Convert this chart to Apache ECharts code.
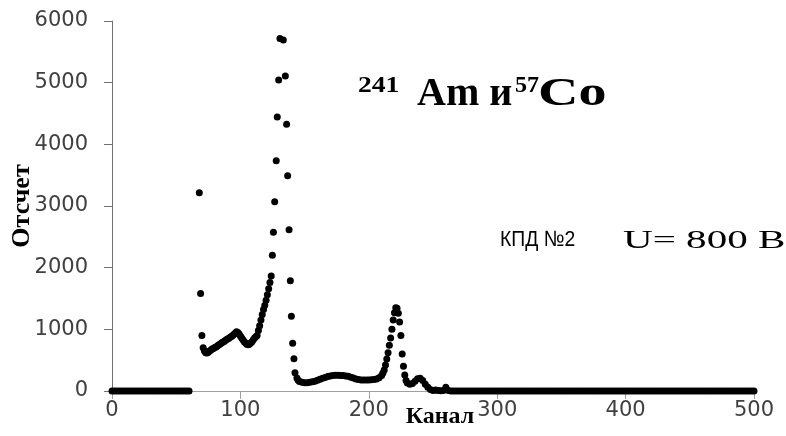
<!DOCTYPE html>
<html>
<head>
<meta charset="utf-8">
<script src="https://cdn.jsdelivr.net/npm/echarts@6/dist/echarts.min.js"></script>
<style>html,body{margin:0;padding:0;background:#fff}#c{width:786px;height:436px}</style>
</head>
<body>
<div id="c"></div>
<script>
// Tick values
const xTicks = [0, 100, 200, 300, 400, 500];
const yTicks = [0, 1000, 2000, 3000, 4000, 5000, 6000];

// Baseline region before the spectrum (channels 0..60, every 2nd channel)
const baseStart = 0, baseStep = 2;
const baseCounts = [0,0,0,0,0,0,0,0,0,0,0,0,0,0,0,0,0,0,0,0,0,0,0,0,0,0,0,0,0,0,0];

// Main spectrum region
const channels = [68,69,70,71,72,73,74,75,76,77,78,79,80,81,82,83,84,85,86,87,88,89,90,91,92,93,94,95,96,97,98,99,100,101,102,103,104,105,106,107,108,109,110,111,112,113,114,115,116,117,118,119,120,121,122,123,124,124.9,125.7,126.7,127.9,128.7,129.8,130.8,133.4,135,136,136.8,137.9,138.9,139.7,140.7,141.7,142.5,144,145,146,148,150,152,154,156,158,160,162,164,166,168,170,172,174,176,178,180,182,184,186,188,190,192,194,196,198,200,202,204,206,208,210,211,212,213,214,215,216,217,218,219,220,221,222,223,224,225,226,227,228,229,230,232,234,236,238,240,242,244,246,248,250];
const counts = [3216,1580,900,700,650,620,615,630,650,665,680,690,705,715,730,745,760,775,790,800,815,830,845,855,870,885,900,920,940,960,950,925,890,860,830,800,780,760,750,760,780,800,830,860,880,900,980,1060,1150,1240,1320,1390,1470,1560,1660,1760,1865,2200,2573,3070,3735,4443,5043,5718,5692,5108,4324,3492,2616,1789,1211,773,524,297,210,175,155,140,135,135,140,150,160,175,190,205,220,235,245,250,255,255,250,250,245,240,225,210,195,185,180,178,178,180,182,185,195,215,250,290,340,420,520,620,740,860,1000,1150,1270,1350,1340,1260,1120,900,600,400,260,170,130,110,120,160,200,205,170,110,60,25,8];

// Tail region (channels 252..500, every 2nd channel)
const tailStart = 252, tailStep = 2;
const tailCounts = [15,10,5,10,60,10,0,0,0,0,0,0,0,0,0,0,0,0,0,0,0,0,0,0,0,0,0,0,0,0,0,0,0,0,0,0,0,0,0,0,0,0,0,0,0,0,0,0,0,0,0,0,0,0,0,0,0,0,0,0,0,0,0,0,0,0,0,0,0,0,0,0,0,0,0,0,0,0,0,0,0,0,0,0,0,0,0,0,0,0,0,0,0,0,0,0,0,0,0,0,0,0,0,0,0,0,0,0,0,0,0,0,0,0,0,0,0,0,0,0,0,0,0,0,0];

const data = [];
baseCounts.forEach((v, i) => data.push([baseStart + i * baseStep, v]));
channels.forEach((c, i) => data.push([c, counts[i]]));
tailCounts.forEach((v, i) => data.push([tailStart + i * tailStep, v]));

const chart = echarts.init(document.getElementById('c'), null, {renderer: 'canvas'});
const tickFont = {fontFamily: 'DejaVu Sans', fontSize: 21, color: '#404040', formatter: v => String(v)};
chart.setOption({
  animation: false,
  backgroundColor: '#ffffff',
  grid: {left: 112, right: 32, top: 21, bottom: 45, containLabel: false, outerBoundsMode: 'none'},
  xAxis: {
    type: 'value', min: xTicks[0], max: xTicks[xTicks.length - 1], interval: 100,
    name: 'Канал', nameLocation: 'middle', nameGap: 14, nameMoveOverlap: false,
    nameTextStyle: {fontFamily: 'Liberation Serif', fontWeight: 'bold', fontSize: 24, color: '#000', verticalAlign: 'top', padding: [0, 0, 0, 14]},
    axisLine: {show: true, lineStyle: {color: '#a0a0a0', width: 1}},
    axisTick: {show: true, length: 8, lineStyle: {color: '#a0a0a0'}},
    axisLabel: Object.assign({margin: 9}, tickFont),
    splitLine: {show: false}
  },
  yAxis: {
    type: 'value', min: yTicks[0], max: yTicks[yTicks.length - 1], interval: 1000,
    name: 'Отсчет', nameLocation: 'middle', nameGap: 77, nameRotate: 90, nameMoveOverlap: false,
    nameTextStyle: {fontFamily: 'Liberation Serif', fontWeight: 'bold', fontSize: 26, color: '#000'},
    axisLine: {show: true, lineStyle: {color: '#707070', width: 1}},
    axisTick: {show: true, length: 8, lineStyle: {color: '#707070'}},
    axisLabel: Object.assign({margin: 24}, tickFont),
    splitLine: {show: false}
  },
  series: [{
    type: 'scatter', data: data, symbol: 'circle', symbolSize: 7,
    itemStyle: {color: '#000000', opacity: 1}, z: 3
  }],
  graphic: [
    {type: 'text', x: 358, y: 74, scaleX: 1.15, style: {text: '241', font: 'bold 24px "Liberation Serif"', fill: '#000'}},
    {type: 'text', x: 417, y: 75, style: {text: 'Am и', font: 'bold 40px "Liberation Serif"', fill: '#000'}},
    {type: 'text', x: 515, y: 74, style: {text: '57', font: 'bold 24px "Liberation Serif"', fill: '#000'}},
    {type: 'text', x: 538, y: 75, scaleX: 1.4, style: {text: 'Co', font: 'bold 40px "Liberation Serif"', fill: '#000'}},
    {type: 'text', x: 500, y: 229, scaleX: 0.88, style: {text: 'КПД №2', font: '22px "Liberation Sans"', fill: '#000'}},
    {type: 'text', x: 623, y: 228, scaleX: 1.58, style: {text: 'U= 800 В', font: '26px "Liberation Serif"', fill: '#000'}}
  ]
});
</script>
</body>
</html>
